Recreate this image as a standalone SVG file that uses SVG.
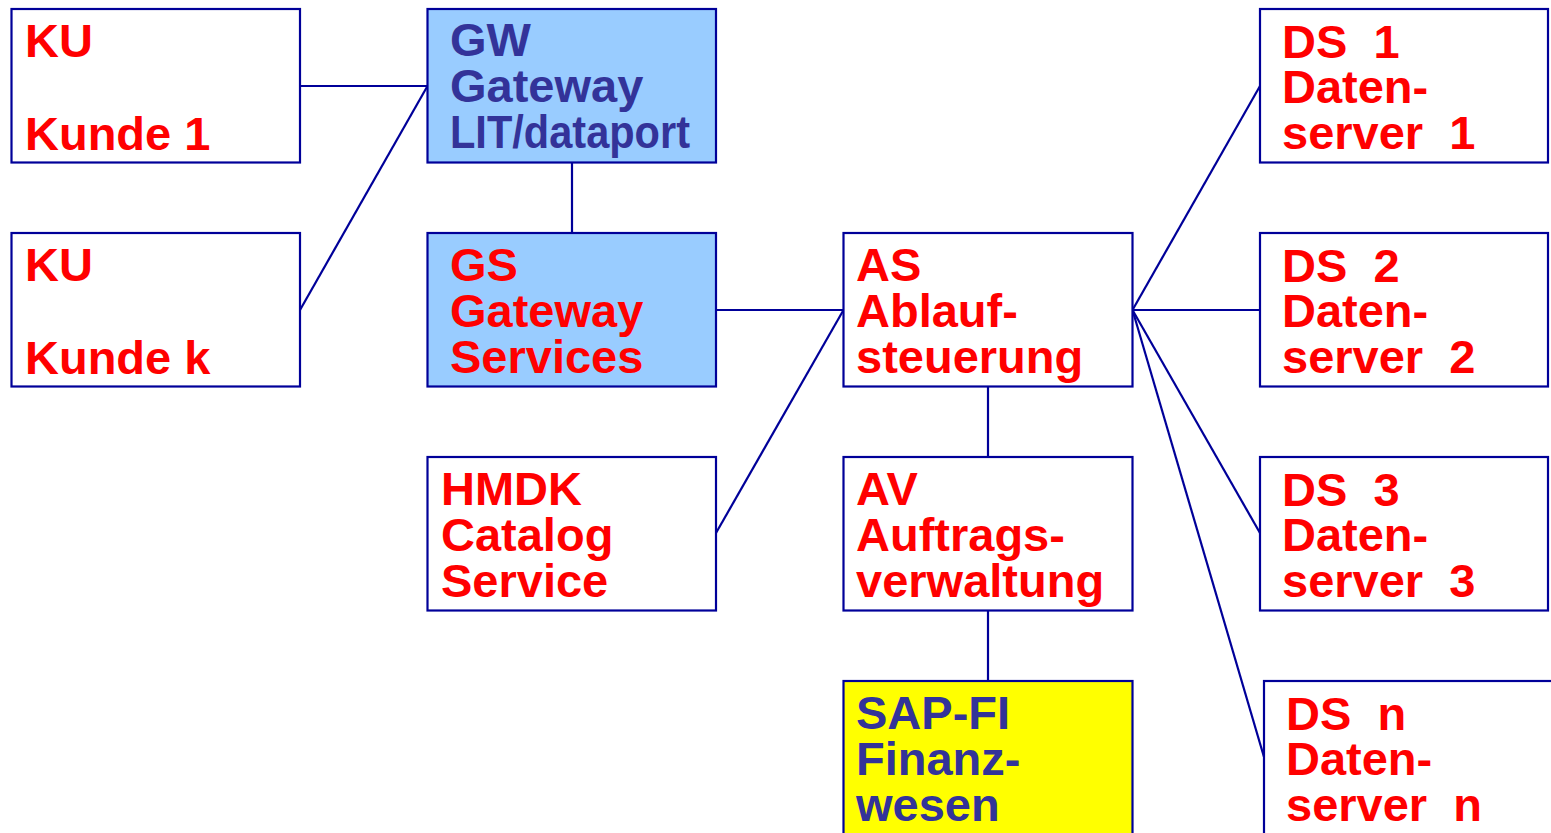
<svg xmlns="http://www.w3.org/2000/svg" width="1551" height="833" viewBox="0 0 1551 833">
<style>
.box{stroke:#000099;stroke-width:2.2;fill:#ffffff}
.blue{fill:#99ccff}
.yel{fill:#ffff00}
.t{font-family:"Liberation Sans",Arial,sans-serif;font-weight:bold;font-size:47px;white-space:pre}
.r{fill:#ff0000}
.d{fill:#333399}
.c{stroke:#000099;stroke-width:2.2;fill:none}
</style>
<rect width="1551" height="833" fill="#ffffff"/>
<g id="connectors">
<line class="c" x1="300" y1="86" x2="427.5" y2="86"/>
<line class="c" x1="300" y1="310" x2="427.5" y2="86"/>
<line class="c" x1="572" y1="162.5" x2="572" y2="233"/>
<line class="c" x1="716" y1="310" x2="843.5" y2="310"/>
<line class="c" x1="716" y1="533" x2="843.5" y2="310"/>
<line class="c" x1="988" y1="386" x2="988" y2="457"/>
<line class="c" x1="988" y1="610" x2="988" y2="681"/>
<line class="c" x1="1132.5" y1="310" x2="1260" y2="86"/>
<line class="c" x1="1132.5" y1="310" x2="1260" y2="310"/>
<line class="c" x1="1132.5" y1="310" x2="1260" y2="533"/>
<line class="c" x1="1132.5" y1="310" x2="1264" y2="757"/>
</g>
<g id="ku1">
<rect class="box" x="11.5" y="9" width="288.5" height="153.5"/>
<text class="t r" x="25" y="57">KU</text>
<text class="t r" x="25" y="150">Kunde 1</text>
</g>
<g id="kuk">
<rect class="box" x="11.5" y="233" width="288.5" height="153.5"/>
<text class="t r" x="25" y="281">KU</text>
<text class="t r" x="25" y="374">Kunde k</text>
</g>
<g id="gw">
<rect class="box blue" x="427.5" y="9" width="288.5" height="153.5"/>
<text class="t d" x="450" y="56">GW</text>
<text class="t d" x="450" y="102">Gateway</text>
<text class="t d" x="450" y="148" textLength="240" lengthAdjust="spacingAndGlyphs">LIT/dataport</text>
</g>
<g id="gs">
<rect class="box blue" x="427.5" y="233" width="288.5" height="153.5"/>
<text class="t r" x="450" y="281">GS</text>
<text class="t r" x="450" y="327">Gateway</text>
<text class="t r" x="450" y="373">Services</text>
</g>
<g id="hmdk">
<rect class="box" x="427.5" y="457" width="288.5" height="153.5"/>
<text class="t r" x="441" y="505">HMDK</text>
<text class="t r" x="441" y="551">Catalog</text>
<text class="t r" x="441" y="597">Service</text>
</g>
<g id="as">
<rect class="box" x="843.5" y="233" width="289" height="153.5"/>
<text class="t r" x="856" y="281">AS</text>
<text class="t r" x="856" y="327">Ablauf-</text>
<text class="t r" x="856" y="373">steuerung</text>
</g>
<g id="av">
<rect class="box" x="843.5" y="457" width="289" height="153.5"/>
<text class="t r" x="856" y="505">AV</text>
<text class="t r" x="856" y="551">Auftrags-</text>
<text class="t r" x="856" y="597">verwaltung</text>
</g>
<g id="sapfi">
<rect class="box yel" x="843.5" y="681" width="289" height="170"/>
<text class="t d" x="856" y="729">SAP-FI</text>
<text class="t d" x="856" y="775">Finanz-</text>
<text class="t d" x="856" y="821">wesen</text>
</g>
<g id="ds1">
<rect class="box" x="1260" y="9" width="288" height="153.5"/>
<text class="t r" x="1282" y="58">DS  1</text>
<text class="t r" x="1282" y="103">Daten-</text>
<text class="t r" x="1282" y="149">server  1</text>
</g>
<g id="ds2">
<rect class="box" x="1260" y="233" width="288" height="153.5"/>
<text class="t r" x="1282" y="282">DS  2</text>
<text class="t r" x="1282" y="327">Daten-</text>
<text class="t r" x="1282" y="373">server  2</text>
</g>
<g id="ds3">
<rect class="box" x="1260" y="457" width="288" height="153.5"/>
<text class="t r" x="1282" y="506">DS  3</text>
<text class="t r" x="1282" y="551">Daten-</text>
<text class="t r" x="1282" y="597">server  3</text>
</g>
<g id="dsn">
<rect class="box" x="1264" y="681" width="300" height="170"/>
<text class="t r" x="1286" y="730">DS  n</text>
<text class="t r" x="1286" y="775">Daten-</text>
<text class="t r" x="1286" y="821">server  n</text>
</g>
</svg>
